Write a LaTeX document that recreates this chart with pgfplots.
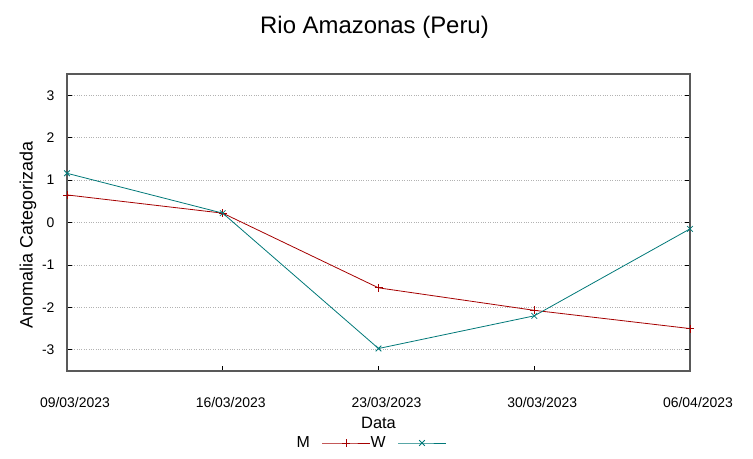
\documentclass[border=0pt]{standalone}
\usepackage{fontspec}
\setmainfont{Liberation Sans}
\usepackage{pgfplots}
\pgfplotsset{compat=1.18}
\definecolor{mred}{RGB}{165,0,0}
\definecolor{wteal}{RGB}{0,120,120}
\begin{document}
\begin{tikzpicture}
\useasboundingbox (0,0) rectangle (753bp,459bp);
\begin{axis}[
    at={(67bp,88bp)}, anchor=south west,
    scale only axis,
    width=623bp, height=297bp,
    xmin=0, xmax=28,
    ymin=-3.5, ymax=3.5,
    xtick={0,7,14,21,28},
    xticklabels={09/03/2023,16/03/2023,23/03/2023,30/03/2023,06/04/2023},
    ytick={-3,-2,-1,0,1,2,3},
    yticklabels={-3,-2,-1,0,1,2,3},
    tick align=inside,
    xtick pos=bottom,
    major tick length=5bp,
    tick style={black, line width=0.8bp},
    ymajorgrids,
    grid style={gray!60, dotted, line width=0.8bp},
    axis line style={black!65, line width=1.2bp},
    ticklabel style={font=\fontsize{14}{16}\selectfont},
    xticklabel style={yshift=-23bp, xshift=8bp},
    yticklabel style={xshift=-9bp},
    xlabel={Data},
    xlabel style={font=\fontsize{16.5}{19}\selectfont, at={(axis description cs:0.5,0)}, anchor=center, yshift=-52bp},
    ylabel={Anomalia Categorizada},
    ylabel style={font=\fontsize{18}{21}\selectfont, at={(axis description cs:-0.0626,0.458)}, anchor=center},
    title={Rio Amazonas (Peru)},
    title style={font=\fontsize{24}{28}\selectfont, yshift=26bp, xshift=-4bp},
    legend columns=2,
    legend plot pos=right,
    legend style={draw=none, fill=none, at={(axis description cs:0.5,0)}, anchor=center,
        xshift=-7bp, yshift=-72bp,
        font=\fontsize{16}{19}\selectfont, inner sep=0pt,
        nodes={inner xsep=0pt},
        /tikz/every even column/.append style={column sep=0pt}},
    legend image code/.code={
        \path (0bp,0bp);
        \draw[#1, mark repeat=2, mark phase=2] plot coordinates {(12bp,0bp) (36bp,0bp) (60bp,0bp)};},
]
\addplot[mred, line width=0.8bp, mark=+, mark size=4bp] coordinates {
    (0,0.65) (7,0.22) (14,-1.54) (21,-2.07) (28,-2.50)
};
\addlegendentry{M}
\addplot[wteal, line width=0.8bp, mark=x, mark size=4bp] coordinates {
    (0,1.16) (7,0.22) (14,-2.97) (21,-2.20) (28,-0.15)
};
\addlegendentry{W}
\end{axis}
\end{tikzpicture}
\end{document}
